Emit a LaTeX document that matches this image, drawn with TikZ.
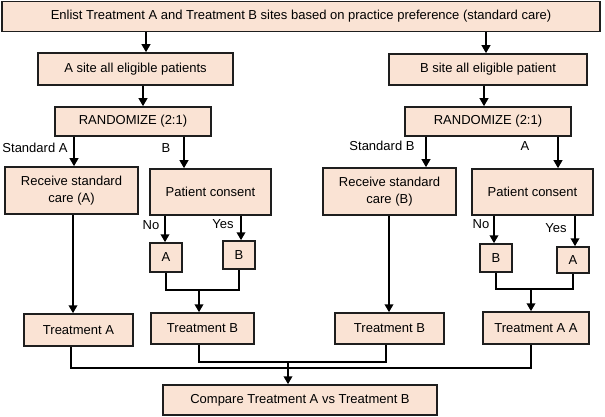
\documentclass[tikz,border=0pt]{standalone}
\usepackage{fontspec}
\setmainfont{Liberation Sans}
\usetikzlibrary{arrows.meta}
\definecolor{peach}{RGB}{250,227,212}
\definecolor{edge}{RGB}{30,30,30}
\begin{document}
\begin{tikzpicture}[x=1pt,y=-1pt,
 box/.style={draw=edge,line width=1.5pt,fill=peach,inner sep=0pt,align=center,font=\fontsize{13}{16.5}\selectfont},
 lbl/.style={inner sep=0pt,font=\fontsize{13}{15}\selectfont},
 arr/.style={line width=2.5pt,-{Triangle[length=8pt,width=8.5pt]}},
 ln/.style={line width=2.5pt}]
\useasboundingbox (0,0) rectangle (605,417);
% boxes
\node[box,minimum width=598pt,minimum height=30pt] (top) at (301,16.5) {Enlist Treatment A and Treatment B sites based on practice preference (standard care)};
\node[box,minimum width=195pt,minimum height=32pt] (asite) at (135.5,69) {A site all eligible patients};
\node[box,minimum width=198pt,minimum height=31pt] (bsite) at (488,69.5) {B site all eligible patient};
\node[box,minimum width=156pt,minimum height=29pt] (randL) at (133,121.5) {RANDOMIZE (2:1)};
\node[box,minimum width=166pt,minimum height=29pt] (randR) at (488,121.5) {RANDOMIZE (2:1)};
\node[box,minimum width=133pt,minimum height=47pt] (recA) at (71.5,190.5) {Receive standard\\care (A)};
\node[box,minimum width=121pt,minimum height=46pt] (pcL) at (210.5,192) {Patient consent};
\node[box,minimum width=133pt,minimum height=47pt] (recB) at (389.5,191.5) {Receive standard\\care (B)};
\node[box,minimum width=121pt,minimum height=46pt] (pcR) at (532.5,192) {Patient consent};
\node[box,minimum width=32pt,minimum height=29pt] (sA1) at (166,257.5) {A};
\node[box,minimum width=32pt,minimum height=28pt] (sB1) at (239,255) {B};
\node[box,minimum width=32pt,minimum height=28pt] (sB2) at (496,258) {B};
\node[box,minimum width=32pt,minimum height=26pt] (sA2) at (573,260) {A};
\node[box,minimum width=109pt,minimum height=32pt] (tA) at (78.5,330) {Treatment A};
\node[box,minimum width=103pt,minimum height=31pt] (tB1) at (202.5,328.5) {Treatment B};
\node[box,minimum width=109pt,minimum height=31pt] (tB2) at (389.5,328.5) {Treatment B};
\node[box,minimum width=106pt,minimum height=32pt] (tAA) at (536,328) {Treatment A A};
\node[box,minimum width=274pt,minimum height=30pt] (cmp) at (300,400) {Compare Treatment A vs Treatment B};
% labels
\node[lbl] (lsa) at (35,148) {Standard A};
\node[lbl] (lb) at (166,148) {B};
\node[lbl] (lsb) at (382,146) {Standard B};
\node[lbl] (la) at (525,146) {A};
\node[lbl] (lno1) at (151,225) {No};
\node[lbl] (lyes1) at (223,224) {Yes};
\node[lbl] (lno2) at (481,224) {No};
\node[lbl] (lyes2) at (556,228) {Yes};
% arrows
\draw[arr] (146,0 |- top.south) -- (146,0 |- asite.north);
\draw[arr] (486,0 |- top.south) -- (486,0 |- bsite.north);
\draw[arr] (143,0 |- asite.south) -- (143,0 |- randL.north);
\draw[arr] (484,0 |- bsite.south) -- (484,0 |- randR.north);
\draw[arr] (74,0 |- randL.south) -- (74,0 |- recA.north);
\draw[arr] (184,0 |- randL.south) -- (184,0 |- pcL.north);
\draw[arr] (426,0 |- randR.south) -- (426,0 |- recB.north);
\draw[arr] (558,0 |- randR.south) -- (558,0 |- pcR.north);
\draw[arr] (165,0 |- pcL.south) -- (165,0 |- sA1.north);
\draw[arr] (241,0 |- pcL.south) -- (241,0 |- sB1.north);
\draw[arr] (494,0 |- pcR.south) -- (494,0 |- sB2.north);
\draw[arr] (575,0 |- pcR.south) -- (575,0 |- sA2.north);
\draw[arr] (73,0 |- recA.south) -- (73,0 |- tA.north);
\draw[arr] (389,0 |- recB.south) -- (389,0 |- tB2.north);
% joins
\coordinate (jL) at (199,290);
\coordinate (jR) at (531,289);
\coordinate (jB) at (288,362);
\draw[ln] (166,0 |- sA1.south) -- (166,290) -- (239,290) -- (239,0 |- sB1.south);
\draw[arr] (jL) -- (199,0 |- tB1.north);
\draw[ln] (496,0 |- sB2.south) -- (496,289) -- (573,289) -- (573,0 |- sA2.south);
\draw[arr] (jR) -- (531,0 |- tAA.north);
\draw[ln] (71,0 |- tA.south) -- (71,368) -- (531,368) -- (531,0 |- tAA.south);
\draw[ln] (199,0 |- tB1.south) -- (199,362) -- (386,362) -- (386,0 |- tB2.south);
\draw[arr] (jB) -- (288,0 |- cmp.north);
\end{tikzpicture}
\end{document}
